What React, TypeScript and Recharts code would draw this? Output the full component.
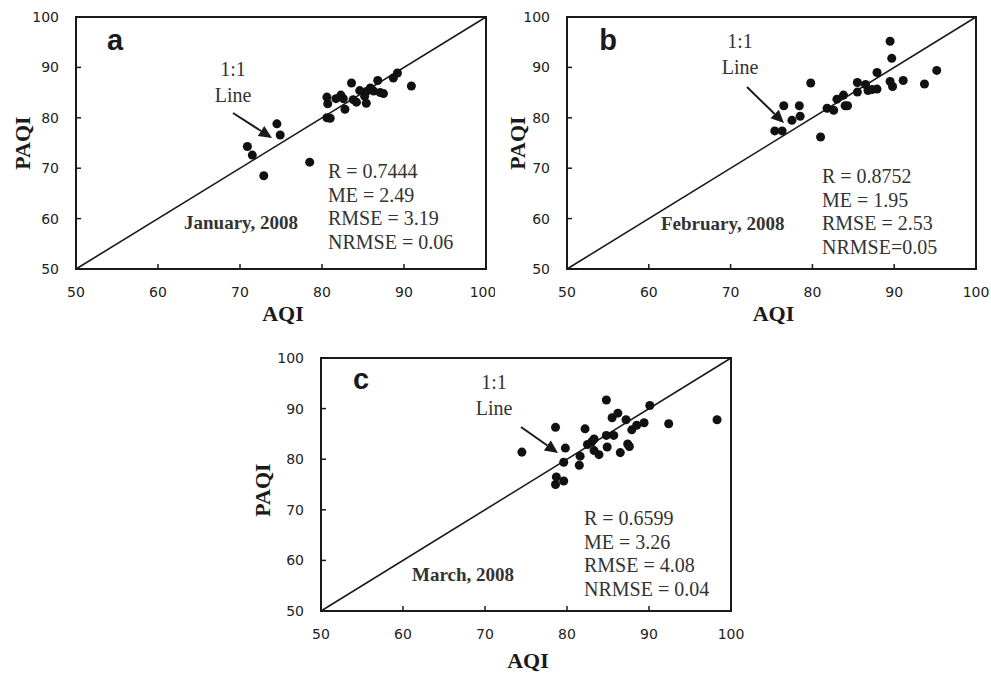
import React from "react";
import {
  ScatterChart,
  Scatter,
  XAxis,
  YAxis,
  ReferenceLine,
  ReferenceArea,
} from "recharts";

// axis ticks shared by all three panels
const axisTicks = [50, 60, 70, 80, 90, 100];

// January 2008
const janAqi = [70.9, 71.5, 72.9, 74.5, 74.9, 78.5, 80.6, 80.7, 80.6, 81.0, 81.7, 82.3, 82.6, 82.8, 83.6, 83.8, 84.2, 84.6, 85.2, 85.4, 85.4, 85.9, 86.3, 86.8, 87.1, 87.5, 88.7, 89.2, 90.9];
const janPaqi = [74.3, 72.6, 68.5, 78.8, 76.6, 71.2, 84.1, 82.8, 80.0, 79.9, 83.8, 84.5, 83.8, 81.7, 86.9, 83.6, 83.1, 85.4, 84.3, 82.9, 85.2, 85.9, 85.3, 87.4, 85.0, 84.8, 87.9, 88.9, 86.3];
const janStats = ["R = 0.7444", "ME = 2.49", "RMSE = 3.19", "NRMSE = 0.06"];

// February 2008
const febAqi = [75.4, 76.3, 76.5, 77.5, 78.4, 78.5, 79.8, 81.0, 81.8, 82.6, 83.0, 83.8, 84.0, 84.3, 85.5, 85.5, 86.5, 86.8, 87.3, 87.9, 87.9, 89.5, 89.7, 89.5, 89.8, 91.1, 93.7, 95.2];
const febPaqi = [77.4, 77.4, 82.4, 79.5, 82.4, 80.3, 86.9, 76.2, 81.9, 81.5, 83.7, 84.5, 82.4, 82.4, 87.0, 85.1, 86.6, 85.4, 85.6, 85.7, 89.0, 95.2, 91.8, 87.2, 86.2, 87.4, 86.7, 89.4];
const febStats = ["R = 0.8752", "ME = 1.95", "RMSE = 2.53", "NRMSE=0.05"];

// March 2008
const marAqi = [74.5, 78.6, 78.7, 78.6, 79.6, 79.6, 79.8, 81.5, 81.6, 82.2, 82.5, 83.0, 83.3, 83.3, 83.9, 84.8, 84.8, 84.9, 85.5, 85.7, 86.2, 86.5, 87.2, 87.4, 87.6, 87.9, 88.5, 89.4, 90.1, 92.4, 98.3];
const marPaqi = [81.4, 86.3, 76.5, 75.0, 75.7, 79.4, 82.2, 78.8, 80.6, 86.0, 82.9, 83.4, 84.0, 81.7, 80.9, 91.7, 84.7, 82.4, 88.2, 84.7, 89.1, 81.3, 87.8, 83.0, 82.5, 85.8, 86.7, 87.2, 90.6, 87.0, 87.8];
const marStats = ["R = 0.6599", "ME = 3.26", "RMSE = 4.08", "NRMSE = 0.04"];

const toPoints = (xs: number[], ys: number[]) => xs.map((x, i) => ({ x, y: ys[i] }));

const serif = "'Liberation Serif', 'Times New Roman', serif";
const sans = "'DejaVu Sans', Verdana, sans-serif";
const ink = "#1a1a1a";

interface Layout {
  letter: [number, number];
  oneToOne: [number, number];
  arrow: [number, number, number, number];
  month: [number, number];
  stats: [number, number];
  paqi: [number, number];
  aqiDy: number;
}

// all annotation text is placed relative to the plot box
const Annotations = (props: any) => {
  const { viewBox, letter, month, stats, lay } = props;
  const vb = viewBox || { x: 0, y: 0, width: 0, height: 0 };
  const ox = vb.x;
  const oy = vb.y;
  const L: Layout = lay;
  const [tx, ty, hx, hy] = L.arrow;
  const ang = Math.atan2(hy - ty, hx - tx);
  const hl = 13;
  const hw = 6;
  const bx = hx - hl * Math.cos(ang);
  const by = hy - hl * Math.sin(ang);
  const p1 = `${ox + hx},${oy + hy}`;
  const p2 = `${ox + bx - hw * Math.sin(ang)},${oy + by + hw * Math.cos(ang)}`;
  const p3 = `${ox + bx + hw * Math.sin(ang)},${oy + by - hw * Math.cos(ang)}`;
  return (
    <g>
      <text x={ox + L.letter[0]} y={oy + L.letter[1]} textAnchor="middle" fontFamily="'Liberation Sans', Arial, sans-serif" fontWeight="bold" fontSize={29} fill={ink}>
        {letter}
      </text>
      <text x={ox + L.oneToOne[0]} y={oy + L.oneToOne[1]} textAnchor="middle" fontFamily={serif} fontSize={20} fill="#333">
        1:1
      </text>
      <text x={ox + L.oneToOne[0]} y={oy + L.oneToOne[1] + 26} textAnchor="middle" fontFamily={serif} fontSize={20} fill="#333">
        Line
      </text>
      <line x1={ox + tx} y1={oy + ty} x2={ox + bx} y2={oy + by} stroke={ink} strokeWidth={2} />
      <polygon points={`${p1} ${p2} ${p3}`} fill={ink} />
      <text x={ox + L.month[0]} y={oy + L.month[1]} fontFamily={serif} fontWeight="bold" fontSize={19} fill="#333">
        {month}
      </text>
      {stats.map((s: string, i: number) => (
        <text key={s} x={ox + L.stats[0]} y={oy + L.stats[1] + i * 23.7} fontFamily={serif} fontSize={20} fill="#333">
          {s}
        </text>
      ))}
      <text
        x={ox + L.paqi[0]}
        y={oy + L.paqi[1]}
        textAnchor="middle"
        fontFamily={serif}
        fontWeight="bold"
        fontSize={22}
        fill={ink}
        transform={`rotate(-90 ${ox + L.paqi[0]} ${oy + L.paqi[1]})`}
        dominantBaseline="middle"
      >
        PAQI
      </text>
      <text x={ox + vb.width / 2 + 2} y={oy + vb.height + L.aqiDy} textAnchor="middle" fontFamily={serif} fontWeight="bold" fontSize={22} fill={ink}>
        AQI
      </text>
    </g>
  );
};

// tick labels drawn by hand so the font size sticks
const XTick = (props: any) => {
  const { x, y, payload } = props;
  return (
    <text x={x} y={y + 9} textAnchor="middle" fontFamily={sans} fontSize={14} fill="#222">
      {payload.value}
    </text>
  );
};

const YTick = (props: any) => {
  const { x, y, payload } = props;
  return (
    <text x={x} y={y + 5} textAnchor="end" fontFamily={sans} fontSize={14} fill="#222">
      {payload.value}
    </text>
  );
};

interface PanelProps {
  left: number;
  top: number;
  width: number;
  height: number;
  margin: { top: number; right: number; bottom: number; left: number };
  data: { x: number; y: number }[];
  letter: string;
  month: string;
  stats: string[];
  lay: Layout;
}

const Panel = ({ left, top, width, height, margin, data, letter, month, stats, lay }: PanelProps) => (
  <div style={{ position: "absolute", left, top, width, height }}>
    <ScatterChart width={width} height={height} margin={margin} style={{ overflow: "visible" }}>
      <XAxis
        type="number"
        dataKey="x"
        domain={[50, 100]}
        ticks={axisTicks}
        allowDataOverflow
        height={50}
        tick={<XTick />}
        tickSize={-5}
        tickMargin={24}
        axisLine={{ stroke: ink, strokeWidth: 2 }}
        tickLine={{ stroke: ink, strokeWidth: 1.5 }}
      />
      <YAxis
        type="number"
        dataKey="y"
        domain={[50, 100]}
        ticks={axisTicks}
        allowDataOverflow
        width={60}
        tick={<YTick />}
        tickSize={-5}
        tickMargin={22}
        axisLine={{ stroke: ink, strokeWidth: 2 }}
        tickLine={{ stroke: ink, strokeWidth: 1.5 }}
      />
      <ReferenceArea
        x1={50}
        x2={100}
        y1={50}
        y2={100}
        fill="none"
        stroke={ink}
        strokeWidth={2}
        label={<Annotations letter={letter} month={month} stats={stats} lay={lay} />}
      />
      <ReferenceLine
        segment={[
          { x: 50, y: 50 },
          { x: 100, y: 100 },
        ]}
        stroke={ink}
        strokeWidth={1.6}
      />
      <Scatter data={data} fill="#111" isAnimationActive={false} />
    </ScatterChart>
  </div>
);

export default function App() {
  return (
    <div style={{ position: "absolute", left: 0, top: 0, width: 991, height: 674 }}>
      <Panel
        left={0}
        top={0}
        width={495}
        height={330}
        margin={{ top: 17, right: 9, bottom: 11, left: 16 }}
        data={toPoints(janAqi, janPaqi)}
        letter="a"
        month="January, 2008"
        stats={janStats}
        lay={{ letter: [39, 33], oneToOne: [157, 59], arrow: [157, 96, 196, 121], month: [108, 212], stats: [252, 161], paqi: [-51, 126], aqiDy: 52 }}
      />
      <Panel
        left={495}
        top={0}
        width={496}
        height={330}
        margin={{ top: 17, right: 15, bottom: 11, left: 12 }}
        data={toPoints(febAqi, febPaqi)}
        letter="b"
        month="February, 2008"
        stats={febStats}
        lay={{ letter: [41, 33], oneToOne: [173, 31], arrow: [180, 70, 217, 106], month: [94, 213], stats: [255, 166], paqi: [-47, 126], aqiDy: 52 }}
      />
      <Panel
        left={250}
        top={318}
        width={500}
        height={356}
        margin={{ top: 40, right: 19, bottom: 13, left: 11 }}
        data={toPoints(marAqi, marPaqi)}
        letter="c"
        month="March, 2008"
        stats={marStats}
        lay={{ letter: [40, 31], oneToOne: [173, 31], arrow: [200, 69, 237, 95], month: [91, 223], stats: [263, 167], paqi: [-56, 132], aqiDy: 57 }}
      />
    </div>
  );
}
